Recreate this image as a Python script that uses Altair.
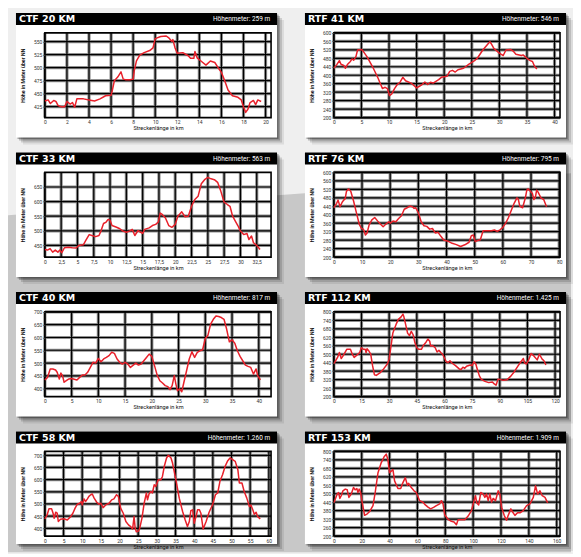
import altair as alt
import pandas as pd

# ---------------- data (km, Höhe) ----------------
ctf20 = [(0,436),(0.3,438),(0.5,431),(0.8,437),(1.0,435),(1.2,427),(1.5,425),(1.8,425),(2.0,435),(2.3,430),
         (2.5,433),(2.7,424),(2.9,440),(3.5,440),(4.0,438),(4.5,436),(5.0,440),(5.5,446),(6.0,447),(6.1,455),
         (6.3,475),(6.6,482),(6.9,492),(7.1,478),(7.3,477),(7.7,477),(8.0,478),(8.1,494),(8.3,513),(8.6,524),
         (9.0,529),(9.5,533),(9.8,538),(10.0,556),(10.5,560),(11.0,561),(11.2,558),(11.5,551),(11.6,554),(11.8,538),
         (12.0,528),(12.5,529),(13.0,523),(13.2,518),(13.5,518),(13.6,531),(13.8,519),(14.2,512),(14.6,505),(15.0,513),
         (15.4,510),(15.7,500),(16.0,491),(16.3,475),(16.6,457),(17.0,446),(17.5,443),(17.8,438),(18.0,425),(18.2,414),
         (18.4,420),(18.6,433),(18.9,437),(19.1,429),(19.3,438),(19.6,435)]

rtf41 = [(0,433),(0.5,449),(1.0,469),(1.3,452),(1.8,446),(2.1,433),(2.5,452),(3.0,465),(3.3,477),(3.6,471),
         (4.0,488),(4.3,519),(5.0,522),(5.3,514),(6.0,488),(7.0,441),(8.0,387),(8.8,337),(9.3,343),(9.7,337),
         (10.1,304),(10.5,312),(11.0,337),(11.5,356),(12.0,367),(12.5,390),(13.0,374),(14.0,363),(15.0,340),(15.5,348),
         (16.0,356),(16.5,368),(17.0,356),(17.5,367),(18.0,363),(18.5,371),(19.0,379),(19.5,390),(20.0,393),(20.5,395),
         (21.0,418),(21.5,423),(22.0,415),(22.5,426),(23.5,433),(24.5,452),(25.5,469),(26.0,480),(27.0,519),(28.0,550),
         (28.3,558),(28.6,546),(29.0,527),(30.0,504),(30.7,493),(31.2,519),(32.0,522),(32.5,514),(33.0,499),(34.0,493),
         (34.3,496),(35.0,480),(35.6,469),(36.0,465),(36.4,441),(36.8,429)]

ctf33 = [(0,436),(0.4,434),(0.8,439),(1.2,427),(1.6,434),(2.0,427),(2.3,434),(2.6,425),(3.0,442),(3.6,444),
         (4.2,442),(4.8,441),(5.2,450),(5.9,452),(6.3,468),(6.8,487),(7.2,484),(7.8,480),(8.3,484),(8.6,499),
         (9.0,525),(9.4,530),(9.7,539),(10.0,536),(10.3,518),(11.0,512),(11.5,507),(12.0,499),(12.5,495),(13.0,499),
         (13.4,505),(13.8,484),(14.3,501),(14.7,495),(15.0,491),(15.3,505),(16.0,510),(16.5,518),(17.0,522),(17.4,530),
         (17.7,561),(18.0,556),(18.5,544),(19.0,518),(19.5,512),(20.0,522),(20.4,550),(21.0,565),(21.5,548),(22.0,550),
         (22.5,584),(23.0,607),(23.5,618),(24.0,661),(24.5,675),(25.0,683),(25.5,678),(26.0,675),(26.5,666),(27.0,635),
         (27.5,598),(28.0,590),(28.4,584),(28.8,550),(29.3,530),(29.6,518),(30.0,499),(30.5,487),(31.0,491),(31.3,470),
         (31.7,482),(32.0,459),(32.5,450),(32.8,442),(33.0,436)]

rtf76 = [(0,433),(1.0,454),(1.5,469),(2.2,438),(3.0,460),(3.5,469),(4.0,475),(4.5,511),(5.2,522),(6.0,511),
         (7.0,465),(8.0,410),(9.0,356),(9.8,335),(10.5,332),(11.2,304),(11.8,314),(12.5,351),(13.5,376),(14.5,387),
         (15.5,371),(16.5,356),(17.5,343),(18.5,356),(19.5,367),(20.0,360),(21.0,370),(22.0,367),(23.0,382),(24.0,395),
         (25.0,426),(26.0,433),(27.0,441),(28.0,437),(28.5,430),(29.0,433),(30.0,410),(31.0,367),(32.0,348),(33.0,345),
         (34.0,332),(35.0,335),(36.0,314),(37.0,317),(38.0,298),(39.0,281),(40.5,275),(42.0,265),(43.5,259),(45.0,250),
         (46.5,258),(48.0,270),(48.8,301),(49.5,304),(50.2,273),(51.0,278),(52.0,282),(53.0,324),(54.0,324),(56.0,324),
         (57.0,328),(58.0,321),(59.0,329),(60.0,340),(61.0,360),(62.0,387),(63.0,421),(64.0,454),(65.0,480),(65.5,472),
         (66.0,441),(67.0,433),(68.0,480),(68.5,516),(69.0,522),(70.0,507),(70.5,500),(71.0,472),(71.5,480),(72.0,516),
         (72.5,507),(73.5,480),(74.5,472),(75.5,438)]

ctf40 = [(0,434),(0.5,444),(1.0,477),(1.5,477),(2.0,473),(2.3,464),(2.5,451),(2.7,438),(3.0,461),(3.3,451),
         (3.6,425),(4.0,431),(4.5,438),(5.0,440),(6.0,434),(6.5,444),(7.0,453),(7.5,453),(8.0,464),(8.5,483),
         (9.0,503),(9.5,500),(10.0,518),(10.5,505),(11.0,516),(11.5,522),(12.0,529),(12.5,542),(13.0,538),(13.5,516),
         (14.0,503),(14.5,496),(15.0,503),(15.5,496),(16.0,483),(17.0,500),(17.5,492),(18.0,496),(18.5,509),(19.0,522),
         (19.5,535),(20.0,526),(20.5,490),(21.0,453),(21.5,431),(22.0,422),(22.5,412),(23.0,408),(23.4,396),(23.8,412),
         (24.2,451),(24.5,418),(24.8,392),(25.2,399),(25.6,388),(26.0,425),(26.5,470),(27.0,516),(27.5,544),(28.0,522),
         (28.5,542),(29.0,548),(29.5,552),(30.0,596),(30.5,609),(31.0,652),(31.5,671),(32.0,684),(32.5,682),(33.0,678),
         (33.5,671),(34.0,632),(34.5,583),(35.0,591),(35.5,578),(36.0,548),(36.5,526),(37.0,509),(37.5,492),(38.0,487),
         (38.5,483),(39.0,457),(39.5,477),(39.8,451),(40.3,434)]

rtf112 = [(0,431),(2,477),(3,512),(4,470),(5,488),(6,512),(7,535),(9,535),(10,500),(11,477),
          (12,488),(14,512),(15,546),(16,535),(17,535),(17.5,512),(18,539),(19,523),(20,500),(21,419),
          (22,355),(23,350),(25,368),(27,396),(29,431),(30,465),(31,558),(32,650),(34,719),(35,747),
          (36.5,765),(37.5,784),(38,765),(39,708),(40,650),(41,632),(42,662),(43,638),(44,581),(45,546),
          (46,535),(47.5,535),(48.5,562),(50,585),(51,608),(52,592),(52.5,558),(53.5,562),(55,546),(56,516),
          (57,528),(58,512),(59,500),(61,447),(62,442),(63,454),(64,438),(66,419),(68,396),(69,392),
          (70,408),(71,400),(72,415),(74,424),(75,419),(76,447),(77,431),(78,385),(79,345),(80,322),
          (82,308),(84,299),(86,304),(87,290),(88,281),(89,322),(90,322),(92,315),(94,320),(96,345),
          (98,378),(100,419),(101.5,447),(102.8,470),(103.5,438),(104.5,431),(105.5,454),(107,505),(108.5,488),(110.3,460),
          (111.5,500),(113,465),(114,454),(115,424)]

ctf58 = [(0,439),(0.6,455),(1.1,480),(1.8,480),(2.2,462),(2.5,441),(2.9,466),(3.3,462),(3.6,428),(4.2,437),
         (5.1,439),(6.0,434),(6.9,448),(7.5,462),(8.1,483),(8.7,499),(9.3,503),(9.8,510),(10.0,496),(10.5,521),
         (10.9,510),(11.4,521),(11.8,531),(12.3,538),(12.7,541),(13.2,524),(13.9,507),(14.5,499),(15.0,503),(15.6,485),
         (16.3,496),(17.2,503),(17.9,517),(18.5,521),(19.2,538),(19.7,531),(20.3,483),(21.0,462),(21.7,428),(22.4,414),
         (23.0,407),(23.5,397),(23.9,448),(24.2,400),(24.5,386),(25.1,389),(25.4,400),(26.0,441),(26.6,503),(27.2,545),
         (27.5,517),(27.9,541),(28.4,551),(28.8,545),(29.3,579),(29.7,572),(30.4,600),(31.1,600),(31.5,613),(32.0,655),
         (32.6,689),(33.1,700),(33.8,689),(34.2,668),(35.1,600),(36.0,524),(36.9,469),(37.6,434),(38.2,407),(38.7,428),
         (39.1,472),(39.6,476),(40.0,421),(40.5,448),(40.9,476),(41.4,476),(41.8,462),(42.4,397),(43.2,428),(44.0,466),
         (44.9,496),(45.7,538),(46.3,545),(46.9,593),(47.6,620),(48.3,655),(49.0,678),(49.6,689),(50.3,682),(51.0,675),
         (51.7,641),(52.1,586),(52.8,586),(53.4,551),(54.1,524),(54.8,489),(55.2,496),(55.7,476),(56.1,458),(56.6,466),
         (57.0,448),(57.7,439)]

rtf153 = [(0,435),(2.4,498),(3.4,509),(4.3,467),(5.3,486),(6.5,521),(8.2,533),(9.6,528),(10.8,474),(12.5,498),
          (14.1,544),(15.3,528),(16.5,537),(17.3,509),(18.2,533),(19.2,509),(20.1,451),(22.1,347),(24.0,358),(25.7,374),
          (28.1,416),(29.7,509),(31.7,649),(34.0,719),(36.0,760),(37.6,781),(38.8,742),(40.0,649),(41.2,660),(42.4,672),
          (43.6,591),(46.0,537),(48.0,537),(49.6,579),(51.3,614),(52.8,560),(53.7,574),(55.6,544),(57.6,521),(59.2,509),
          (61.6,451),(64.0,440),(65.7,421),(67.6,405),(69.5,393),(71.9,405),(73.6,416),(76.0,428),(77.2,451),(78.4,428),
          (79.6,351),(82.0,319),(84.4,305),(86.3,300),(88.0,281),(89.2,316),(91.6,316),(94.0,316),(96.4,342),(98.8,381),
          (100.7,451),(101.7,486),(102.6,435),(104.0,421),(105.5,509),(107.2,498),(108.4,474),(109.6,498),(110.8,451),(112.0,498),
          (113.2,440),(114.4,467),(116.1,451),(118.0,521),(119.2,498),(120.4,405),(122.3,347),(124.0,312),(125.2,347),(127.1,393),
          (128.1,374),(130.0,347),(131.9,365),(133.6,365),(136.0,381),(138.4,416),(140.8,428),(143.2,474),(144.8,556),(146.3,498),
          (148.0,521),(149.6,486),(151.6,474),(153.5,435)]

titles = ["CTF 20 KM", "RTF 41 KM", "CTF 33 KM", "RTF 76 KM",
          "CTF 40 KM", "RTF 112 KM", "CTF 58 KM", "RTF 153 KM"]
hoehenmeter = ["Höhenmeter: 259 m", "Höhenmeter: 546 m", "Höhenmeter: 563 m", "Höhenmeter: 795 m",
               "Höhenmeter: 817 m", "Höhenmeter: 1.425 m", "Höhenmeter: 1.260 m", "Höhenmeter: 1.909 m"]
profiles = [ctf20, rtf41, ctf33, rtf76, ctf40, rtf112, ctf58, rtf153]

xticks_ctf20 = [0, 2, 4, 6, 8, 10, 12, 14, 16, 18, 20]
xticks_rtf41 = [0, 5, 10, 15, 20, 25, 30, 35, 40]
xticks_ctf33 = [0, 2.5, 5, 7.5, 10, 12.5, 15, 17.5, 20, 22.5, 25, 27.5, 30, 32.5]
xticks_rtf76 = [0, 10, 20, 30, 40, 50, 60, 70, 80]
xticks_ctf40 = [0, 5, 10, 15, 20, 25, 30, 35, 40]
xticks_rtf112 = [0, 15, 30, 45, 60, 75, 90, 105, 120]
xticks_ctf58 = [0, 5, 10, 15, 20, 25, 30, 35, 40, 45, 50, 55, 60]
xticks_rtf153 = [0, 20, 40, 60, 80, 100, 120, 140, 160]
xticks = [xticks_ctf20, xticks_rtf41, xticks_ctf33, xticks_rtf76,
          xticks_ctf40, xticks_rtf112, xticks_ctf58, xticks_rtf153]

yticks_ctf20 = [425, 450, 475, 500, 525, 550]
yticks_rtf_a = [200, 240, 280, 320, 360, 400, 440, 480, 520, 560, 600]
yticks_ctf33 = [450, 500, 550, 600, 650]
yticks_ctf40 = [400, 450, 500, 550, 600, 650, 700]
yticks_rtf_b = [200, 260, 320, 380, 440, 500, 560, 620, 680, 740, 800]
yticks = [yticks_ctf20, yticks_rtf_a, yticks_ctf33, yticks_rtf_a,
          yticks_ctf40, yticks_rtf_b, yticks_ctf40, yticks_rtf_b]

xdomains = [[0, 20.5], [0, 41], [0, 34.7], [0, 80.3], [0, 42.3], [0, 122.7], [0, 60.6], [0, 162.4]]
ydomains = [[404, 567], [200, 600], [410, 700], [200, 600], [369, 700], [200, 800], [368, 716], [200, 800]]

# ---------------- styling / layout ----------------
W, H = 227, 85
RED = "#e8202a"
LEFT, RIGHT, TOP = 29, 6, 20
BG_PATH = "M -1 -0.267 L 1 -0.416 L 1 0.93 L -1 0.93 Z"
one = pd.DataFrame({"k": [0]})


def panel(i):
    df = pd.DataFrame(profiles[i], columns=["km", "m"])
    xs = alt.Scale(domain=xdomains[i], nice=False, zero=False)
    ys = alt.Scale(domain=ydomains[i], nice=False, zero=False)
    xax = alt.Axis(values=xticks[i], title="Streckenlänge in km", grid=False, domain=False, ticks=False,
                   labelExpr="replace(toString(datum.value), '.', ',')", labelFont="Roboto",
                   labelFontSize=5, labelColor="#333", labelPadding=2, labelFlush=False, labelOverlap=False,
                   titleFont="Roboto", titleFontSize=5.6, titleFontWeight="normal", titleColor="#111",
                   titlePadding=1, zindex=1)
    yax = alt.Axis(values=yticks[i], title="Höhe in Meter über NN", grid=False, domain=False,
                   tickSize=2, tickColor="#444", labelFont="Roboto", labelFontSize=5, labelColor="#333",
                   labelPadding=1, labelFlush=False, labelOverlap=False,
                   titleFont="Roboto", titleFontSize=5.3, titleFontWeight="bold", titleColor="#111",
                   titlePadding=8, zindex=1)
    bot = 8 if i >= 6 else 20
    L = []
    if i == 0:
        L.append(alt.Chart(one).mark_point(shape=BG_PATH, filled=True, color="#c8c8c8", opacity=1,
                                           strokeWidth=0, size=565 ** 2)
                 .encode(x=alt.value(245.5), y=alt.value(258.5)))
    for off, op in [(7, 0.08), (5, 0.14), (3, 0.22), (1.5, 0.3)]:
        L.append(alt.Chart(one).mark_rect(color="#000", opacity=op)
                 .encode(x=alt.value(-LEFT + off), x2=alt.value(W + RIGHT + off),
                         y=alt.value(-TOP + off), y2=alt.value(H + bot + off)))
    L.append(alt.Chart(one).mark_rect(color="#ffffff")
             .encode(x=alt.value(-LEFT), x2=alt.value(W + RIGHT), y=alt.value(-TOP), y2=alt.value(H + bot)))
    L.append(alt.Chart(one).mark_rect(color="#000000")
             .encode(x=alt.value(-LEFT), x2=alt.value(W + RIGHT), y=alt.value(-TOP), y2=alt.value(-8)))
    L.append(alt.Chart(one).mark_text(text=titles[i], font="DejaVu Sans", fontWeight="bold", fontSize=9.5,
                                      color="white", align="left", baseline="middle")
             .encode(x=alt.value(-LEFT + 3), y=alt.value(-13.8)))
    L.append(alt.Chart(one).mark_text(text=hoehenmeter[i], font="Roboto", fontSize=6.5,
                                      color="white", align="right", baseline="middle")
             .encode(x=alt.value(W - 1), y=alt.value(-13.8)))
    xg = pd.DataFrame({"v": xticks[i]})
    yg = pd.DataFrame({"v": yticks[i]})
    for col, sw in [("#8f8f8f", 3.2), ("#000000", 1.2)]:
        L.append(alt.Chart(xg).mark_rule(color=col, strokeWidth=sw)
                 .encode(x=alt.X("v:Q", scale=xs, axis=xax)))
        L.append(alt.Chart(yg).mark_rule(color=col, strokeWidth=sw)
                 .encode(y=alt.Y("v:Q", scale=ys, axis=yax)))
    L.append(alt.Chart(one).mark_rect(fillOpacity=0, stroke="#000", strokeWidth=1.6)
             .encode(x=alt.value(0), x2=alt.value(W), y=alt.value(0), y2=alt.value(H)))
    L.append(alt.Chart(df).mark_line(color=RED, strokeWidth=1.5, strokeJoin="round")
             .encode(x=alt.X("km:Q", scale=xs, axis=xax), y=alt.Y("m:Q", scale=ys, axis=yax)))
    return alt.layer(*L).properties(width=W, height=H)


chart = alt.concat(*[panel(i) for i in range(8)], columns=2,
                   spacing={"row": 55, "column": 63}, bounds="flush").properties(
    background="#efefef", padding={"left": 0, "top": 4, "right": 0, "bottom": 0}
).configure_view(strokeWidth=0)

chart.save("out.html", embed_options={"renderer": "svg", "actions": False})
